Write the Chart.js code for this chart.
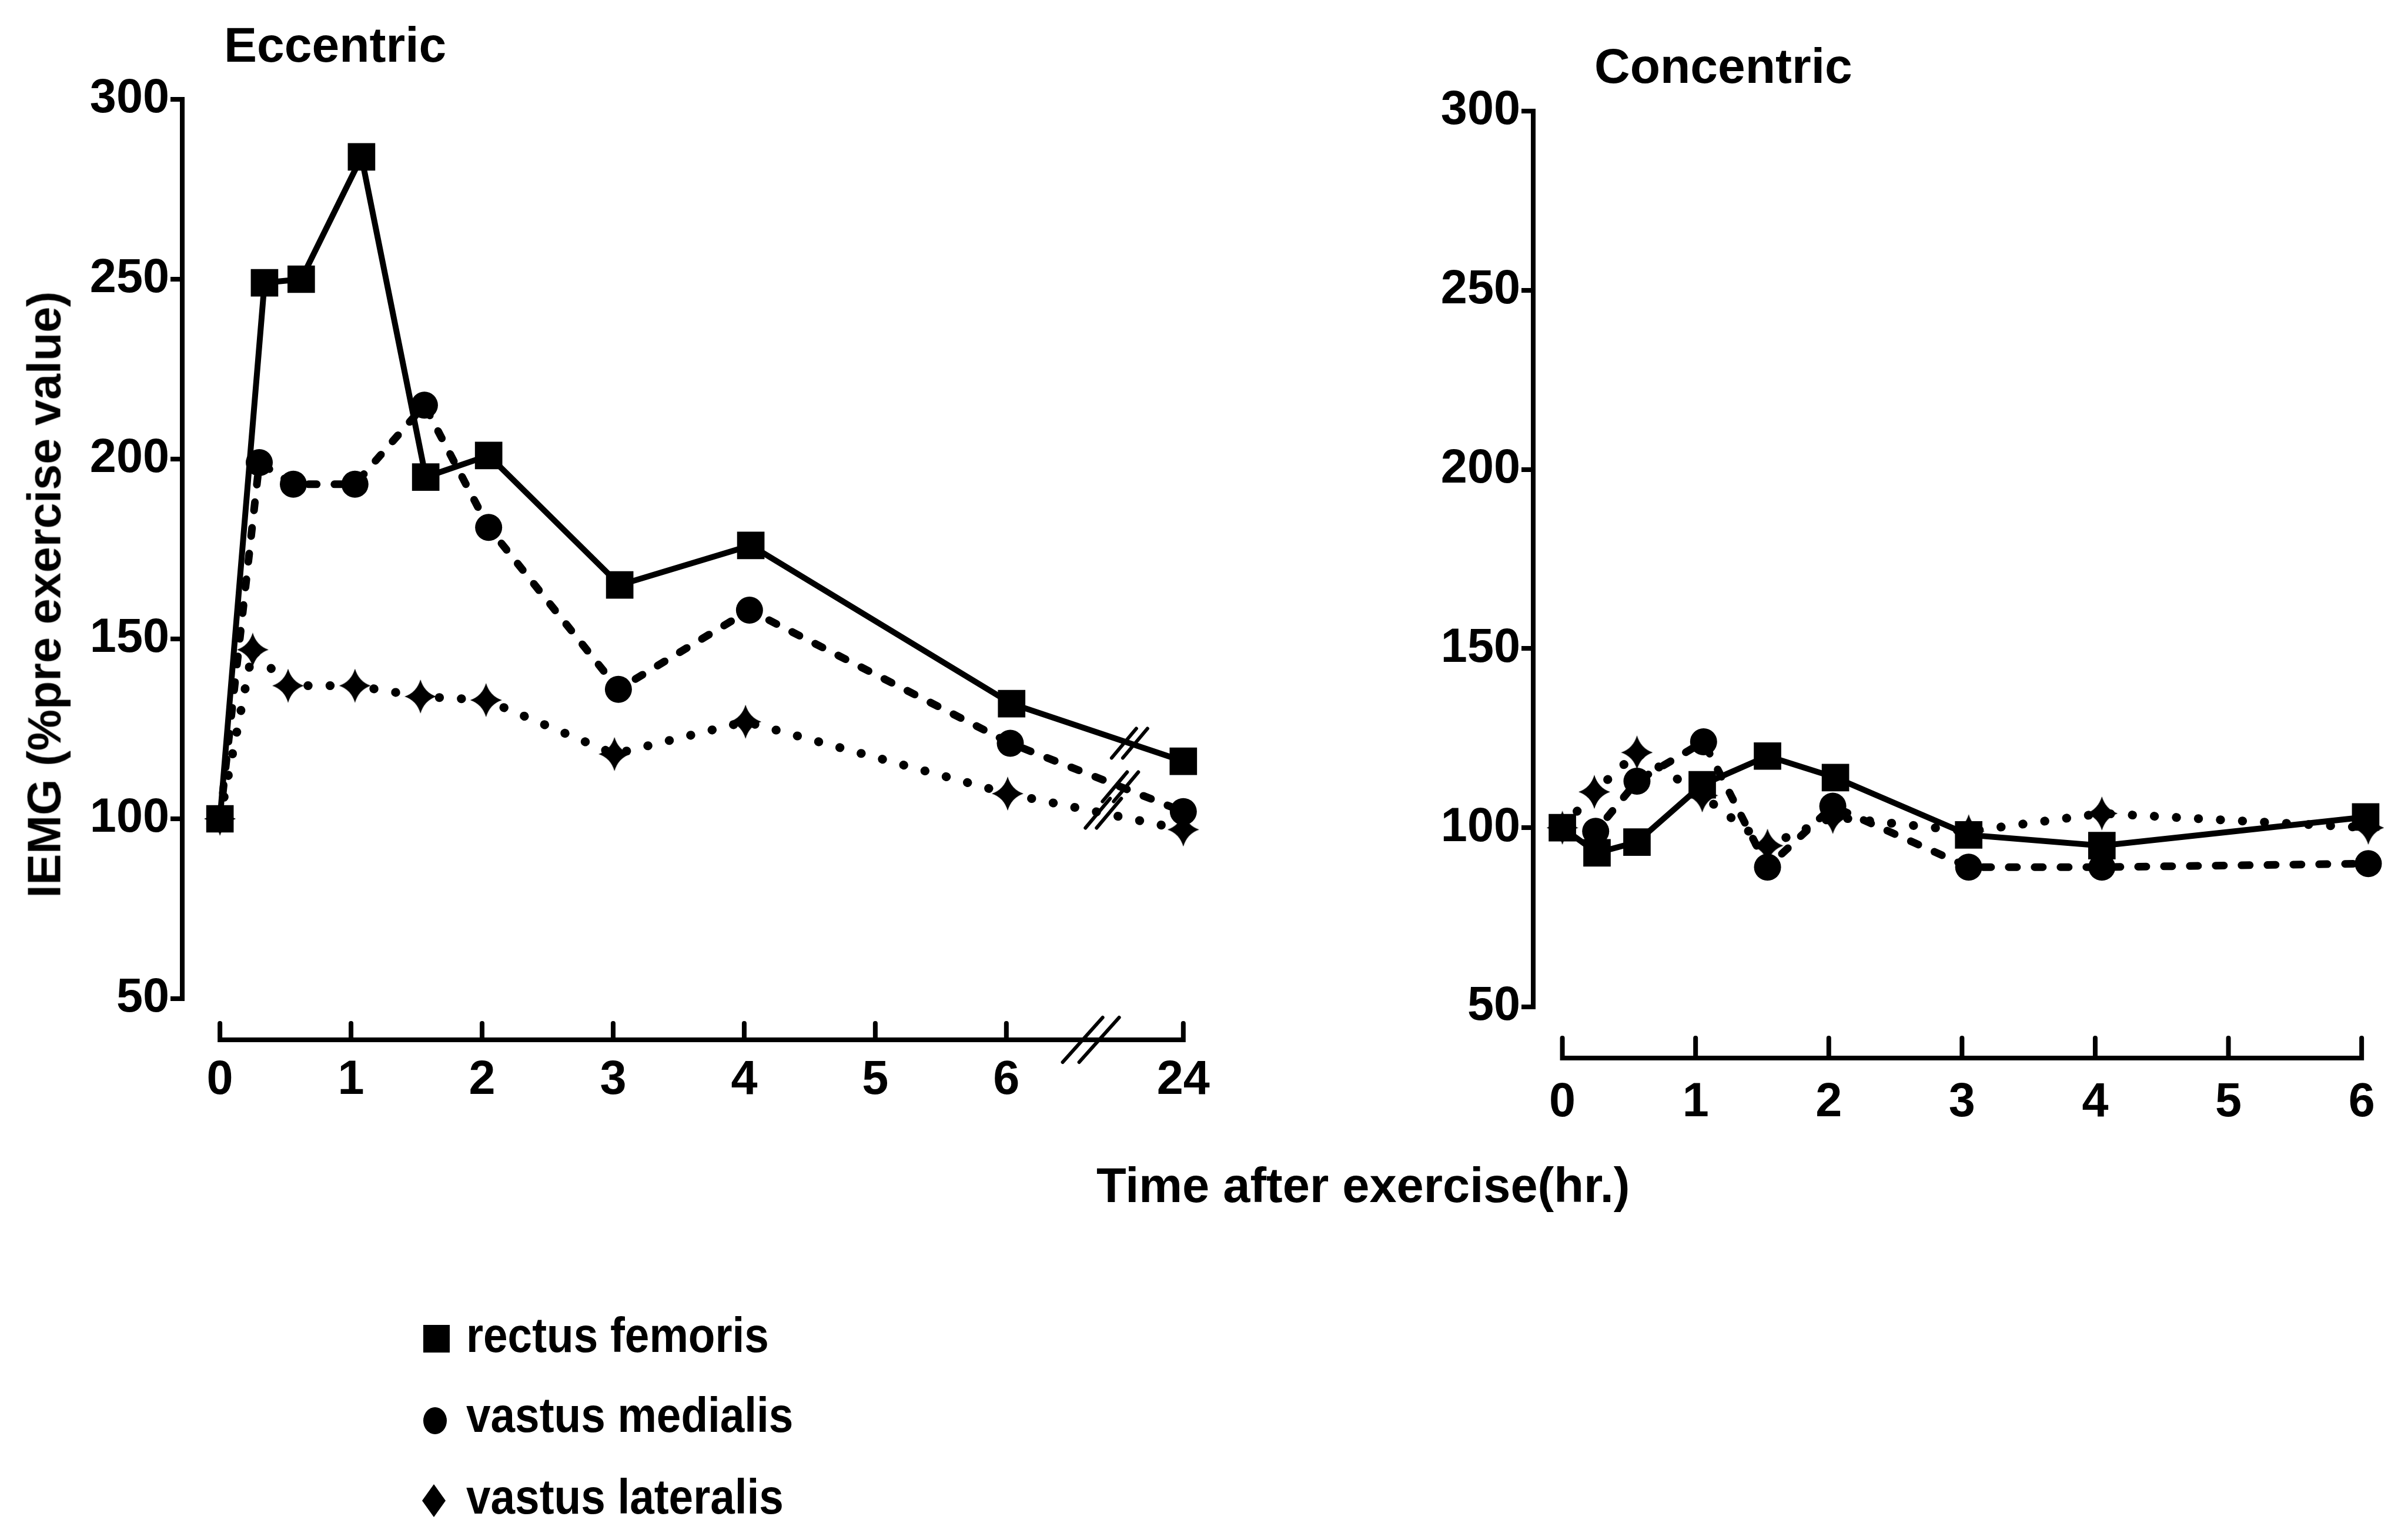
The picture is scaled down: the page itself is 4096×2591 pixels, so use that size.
<!DOCTYPE html>
<html lang="en">
<head>
<meta charset="utf-8">
<title>IEMG after eccentric and concentric exercise</title>
<script src="https://cdn.jsdelivr.net/npm/chart.js@4.4.1/dist/chart.umd.min.js"></script>
<style>
  html, body { margin: 0; padding: 0; background: #fff; }
  body {
    position: relative; width: 4096px; height: 2591px; overflow: hidden;
    font-family: 'Liberation Sans', Arial, Helvetica, sans-serif;
    font-weight: bold; color: #000;
  }
  canvas { position: absolute; top: 0; }
  #ecc { left: 0; width: 2100px; height: 1950px; }
  #con { left: 2300px; width: 1796px; height: 1950px; }
  .txt { position: absolute; white-space: nowrap; line-height: 1; }
  #ttl-ecc { left: 381px; top: 34px; font-size: 84px; }
  #ttl-con { left: 2712px; top: 70px; font-size: 84px; }
  #x-title { left: 1865px; top: 1975px; font-size: 83px; }
  #y-title { left: -475px; top: 972px; width: 1100px; text-align: center; font-size: 79px; transform: rotate(-90deg); }
  .key { position: absolute; left: 700px; height: 83px; width: 800px; }
  .key .mk { position: absolute; background: #000; }
  .key .mk.circle { border-radius: 50%; }
  .key .mk.diamond { clip-path: polygon(50% 0, 100% 50%, 50% 100%, 0 50%); }
  .key .tx {
    position: absolute; left: 93px; top: 0; font-size: 83px; line-height: 1;
    white-space: nowrap; transform: scaleX(0.9); transform-origin: left center;
  }
</style>
</head>
<body>
<canvas id="ecc" width="2100" height="1950"></canvas>
<canvas id="con" width="1796" height="1950"></canvas>
<div class="txt" id="ttl-ecc">Eccentric</div>
<div class="txt" id="ttl-con">Concentric</div>
<div class="txt" id="y-title">IEMG (%pre exercise value)</div>
<div class="txt" id="x-title">Time after exercise(hr.)</div>
<div id="key"></div>

<script>
const muscles = ['rectus femoris', 'vastus medialis', 'vastus lateralis'];
const eccTickHours = [0, 1, 2, 3, 4, 5, 6, 24];
const conTickHours = [0, 1, 2, 3, 4, 5, 6];
const yTicks = [50, 100, 150, 200, 250, 300];

// eccentric bout: hours after exercise, IEMG in % of pre exercise value
const eccRectusHours    = [0, 0.34, 0.62, 1.08, 1.57, 2.05, 3.05, 4.05, 6.04, 24];
const eccRectus         = [100, 249, 250, 284, 195, 201, 165, 176, 132, 116];
const eccMedialisHours  = [0, 0.30, 0.56, 1.03, 1.56, 2.05, 3.04, 4.04, 6.03, 24];
const eccMedialis       = [100, 199, 193, 193, 215, 181, 136, 158, 121, 102];
const eccLateralisHours = [0, 0.25, 0.52, 1.03, 1.53, 2.03, 3.01, 4.01, 6.01, 24];
const eccLateralis      = [100, 147, 137, 137, 134, 133, 118, 127, 107, 97];

// concentric bout
const conRectusHours    = [0, 0.26, 0.56, 1.05, 1.54, 2.05, 3.05, 4.05, 6.03];
const conRectus         = [100, 93, 96, 112, 120, 114, 98, 95, 103];
const conMedialisHours  = [0, 0.25, 0.56, 1.06, 1.54, 2.03, 3.05, 4.05, 6.05];
const conMedialis       = [100, 99, 113, 124, 89, 106, 89, 89, 90];
const conLateralisHours = [0, 0.24, 0.56, 1.05, 1.54, 2.03, 3.05, 4.05, 6.05];
const conLateralis      = [100, 110, 121, 109, 95, 103, 99, 104, 100];

// 24 h sits just past the break on the eccentric time axis
const BREAK_POS = 7.35;
const axisPos = h => (h >= 12 ? BREAK_POS : h);
const points = (hours, values) => hours.map((h, i) => ({ x: axisPos(h), y: values[i] }));

Chart.defaults.font.family = "'Liberation Sans', Arial, Helvetica, sans-serif";
Chart.defaults.font.weight = 'bold';
Chart.defaults.color = '#000';

// four-pointed marker for vastus lateralis
const diamond = (() => {
  const w = 54, h = 58;
  const c = document.createElement('canvas');
  c.width = w; c.height = h;
  const g = c.getContext('2d');
  const cx = w / 2, cy = h / 2, k = 0.12;
  g.fillStyle = '#000';
  g.beginPath();
  g.moveTo(cx, 0);
  g.quadraticCurveTo(cx + w * k, cy - h * k, w, cy);
  g.quadraticCurveTo(cx + w * k, cy + h * k, cx, h);
  g.quadraticCurveTo(cx - w * k, cy + h * k, 0, cy);
  g.quadraticCurveTo(cx - w * k, cy - h * k, cx, 0);
  g.fill();
  return c;
})();

function muscleSets(rH, r, mH, m, lH, l) {
  return [
    { label: muscles[0], data: points(rH, r), borderWidth: 10, pointStyle: 'rect', pointRadius: 33 },
    { label: muscles[1], data: points(mH, m), borderWidth: 13, borderDash: [14, 30], pointStyle: 'circle', pointRadius: 23 },
    { label: muscles[2], data: points(lH, l), borderWidth: 15, borderDash: [0.5, 37], pointStyle: diamond, pointRadius: 28 }
  ].map(d => Object.assign({
    borderColor: '#000', backgroundColor: '#000', pointBorderWidth: 0,
    borderCapStyle: 'round', tension: 0, clip: false
  }, d));
}

function slashes(ctx, cx, cy, dx, dy, sep) {
  [-0.5, 0.5].forEach(k => {
    const x = cx + k * sep;
    ctx.moveTo(x - dx, cy + dy);
    ctx.lineTo(x + dx, cy - dy);
  });
}

// hand drawn style time axis: baseline below the plot, upward ticks, optional breaks
const brokenTimeAxis = {
  id: 'brokenTimeAxis',
  afterDatasetsDraw(chart, args, opts) {
    const { ctx, chartArea } = chart;
    const xs = chart.scales.x, ys = chart.scales.y;
    const y0 = chartArea.bottom + opts.drop;
    const px = opts.ticks.map(h => xs.getPixelForValue(axisPos(h)));
    ctx.save();
    ctx.strokeStyle = '#000';
    ctx.lineWidth = opts.lineWidth;
    ctx.lineCap = 'round';
    ctx.beginPath();
    ctx.moveTo(px[0], y0 - opts.tickHeight);
    ctx.lineTo(px[0], y0);
    ctx.lineTo(px[px.length - 1], y0);
    ctx.lineTo(px[px.length - 1], y0 - opts.tickHeight);
    px.slice(1, -1).forEach(x => { ctx.moveTo(x, y0); ctx.lineTo(x, y0 - opts.tickHeight); });
    ctx.stroke();

    ctx.lineWidth = 6;
    ctx.beginPath();
    if (opts.axisBreak !== undefined) {
      slashes(ctx, xs.getPixelForValue(opts.axisBreak), y0, 34, 38, 28);
    }
    (opts.lineBreaks || []).forEach((pos, i) => {
      const d = chart.data.datasets[i].data;
      const a = d[d.length - 2], b = d[d.length - 1];
      const f = (pos - a.x) / (b.x - a.x);
      slashes(ctx, xs.getPixelForValue(pos), ys.getPixelForValue(a.y + f * (b.y - a.y)), 21, 25, 19);
    });
    ctx.stroke();
    ctx.restore();
  }
};

function panel(id, o) {
  const canvas = document.getElementById(id);
  const W = canvas.width, H = canvas.height;
  const xMin = (o.axisX - o.zeroX) / o.pxPerHour;
  const xMax = xMin + (o.rightX - o.axisX) / o.pxPerHour;
  return new Chart(canvas, {
    type: 'line',
    data: { datasets: o.datasets },
    options: {
      responsive: false,
      animation: false,
      devicePixelRatio: 1,
      layout: { padding: { top: o.top, right: W - o.rightX, bottom: 0, left: 0 } },
      scales: {
        x: {
          type: 'linear', min: xMin, max: xMax,
          grid: { display: false, drawTicks: false },
          border: { display: false },
          afterFit: s => {
            s.height = H - o.bottom;
            // the big label gap would otherwise be reserved at both ends
            s.paddingLeft = 0;
            s.paddingRight = 0;
          },
          afterBuildTicks: s => { s.ticks = o.ticks.map(h => ({ value: axisPos(h) })); },
          ticks: {
            padding: o.labelPad, autoSkip: false, maxRotation: 0,
            font: { size: 81, weight: 'bold' }, color: '#000',
            callback: (v, i) => String(o.ticks[i])
          }
        },
        y: {
          type: 'linear', min: 50, max: 300,
          afterFit: s => { s.width = o.axisX; },
          afterBuildTicks: s => { s.ticks = yTicks.map(v => ({ value: v })); },
          grid: { drawOnChartArea: false, drawTicks: true, tickLength: 20, lineWidth: 8, color: '#000' },
          border: { display: true, color: '#000', width: 8 },
          ticks: { padding: 2, font: { size: 81, weight: 'bold' }, color: '#000' }
        }
      },
      plugins: {
        legend: { display: false },
        tooltip: { enabled: false },
        brokenTimeAxis: {
          ticks: o.ticks, drop: o.drop, tickHeight: o.tickHeight, lineWidth: 8,
          axisBreak: o.axisBreak, lineBreaks: o.lineBreaks
        }
      }
    },
    plugins: [brokenTimeAxis]
  });
}

panel('ecc', {
  datasets: muscleSets(eccRectusHours, eccRectus, eccMedialisHours, eccMedialis, eccLateralisHours, eccLateralis),
  ticks: eccTickHours,
  axisX: 310, zeroX: 374.6, pxPerHour: 224.6, rightX: 2080,
  top: 169, bottom: 1699, labelPad: 91,
  drop: 70, tickHeight: 28,
  axisBreak: 6.645, lineBreaks: [6.94, 6.87, 6.74]
});

panel('con', {
  datasets: muscleSets(conRectusHours, conRectus, conMedialisHours, conMedialis, conLateralisHours, conLateralis),
  ticks: conTickHours,
  axisX: 308, zeroX: 358.5, pxPerHour: 230.8, rightX: 1790,
  top: 189, bottom: 1713, labelPad: 115,
  drop: 87, tickHeight: 34
});

// key below the panels
const keyMarks = [
  { cls: 'square',  top: 2230, x: 20, y: 24, w: 45, h: 47 },
  { cls: 'circle',  top: 2366, x: 20, y: 28, w: 40, h: 46 },
  { cls: 'diamond', top: 2505, x: 18, y: 20, w: 40, h: 56 }
];
const key = document.getElementById('key');
muscles.forEach((name, i) => {
  const m = keyMarks[i];
  const row = document.createElement('div');
  row.className = 'key';
  row.style.top = m.top + 'px';
  const mk = document.createElement('span');
  mk.className = 'mk ' + m.cls;
  Object.assign(mk.style, { left: m.x + 'px', top: m.y + 'px', width: m.w + 'px', height: m.h + 'px' });
  const tx = document.createElement('span');
  tx.className = 'tx';
  tx.textContent = name;
  row.append(mk, tx);
  key.appendChild(row);
});
</script>
</body>
</html>
